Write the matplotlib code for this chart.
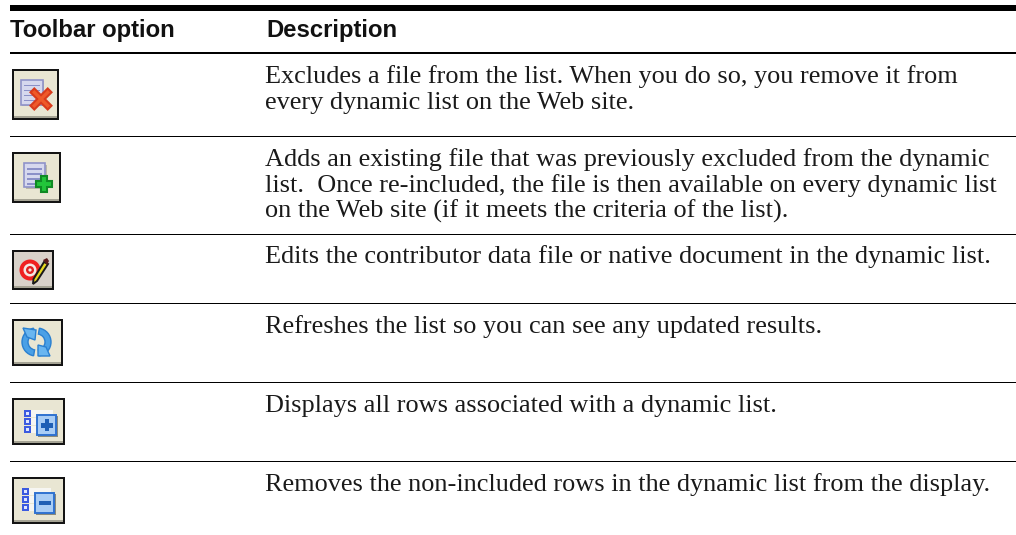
import matplotlib
matplotlib.use("Agg")
import matplotlib.pyplot as plt
from matplotlib.patches import Rectangle, Polygon, Circle, Wedge

headers = ["Toolbar option", "Description"]
descriptions = [
    ["Excludes a file from the list. When you do so, you remove it from",
     "every dynamic list on the Web site."],
    ["Adds an existing file that was previously excluded from the dynamic",
     "list.  Once re-included, the file is then available on every dynamic list",
     "on the Web site (if it meets the criteria of the list)."],
    ["Edits the contributor data file or native document in the dynamic list."],
    ["Refreshes the list so you can see any updated results."],
    ["Displays all rows associated with a dynamic list."],
    ["Removes the non-included rows in the dynamic list from the display."],
]
first_baselines = [83, 166, 263, 333, 412, 491]
line_gap = 26
rule_ys = [136, 234, 303, 382, 461]
icon_boxes = [(12, 69, 59, 120), (12, 152, 61, 203), (12, 250, 54, 290),
              (12, 319, 63, 366), (12, 398, 65, 445), (12, 477, 65, 524)]
icon_bg = ["#e9e6d3", "#e9e6d3", "#d9d2ca", "#e9e6d3", "#e9e6d3", "#e9e6d3"]

fig = plt.figure(figsize=(10.16, 5.35), dpi=100)
ax = fig.add_axes([0, 0, 1, 1])
ax.set_xlim(0, 1016)
ax.set_ylim(535, 0)
ax.axis("off")

X0, X1 = 10, 1016
ax.add_patch(Rectangle((X0, 5), X1 - X0, 6, fc="black", ec="none"))
ax.add_patch(Rectangle((X0, 51.5), X1 - X0, 2, fc="black", ec="none"))
for y in rule_ys:
    ax.add_patch(Rectangle((X0, y - 0.5), X1 - X0, 1, fc="black", ec="none"))

ax.text(10, 37, headers[0], family="Liberation Sans", weight="bold",
        fontsize=17.2, va="baseline", color="#111111")
ax.text(266, 37, headers[1], family="Liberation Sans", weight="bold",
        fontsize=17.2, va="baseline", color="#111111")

for lines, base in zip(descriptions, first_baselines):
    for i, line in enumerate(lines):
        ax.text(265, base + i * line_gap, line, family="Liberation Serif",
                fontsize=18.9, va="baseline", color="#1a1a1a")


def rect(x, y, w, h, fc, ec="none", lw=0, z=3):
    ax.add_patch(Rectangle((x, y), w, h, fc=fc, ec=ec, lw=lw, zorder=z))


def frame(box, bg):
    x0, y0, x1, y1 = box
    rect(x0, y0, x1 - x0, y1 - y0, "#141414", z=2)
    rect(x0 + 2, y0 + 2, x1 - x0 - 4, y1 - y0 - 4, bg, z=2)
    rect(x0 + 2, y1 - 4, x1 - x0 - 4, 2, "#a5a394", z=2)


def doc(x, y, w, h):
    rect(x + 1.5, y + 1.5, w, h, "#b9b7a8", z=3)
    rect(x, y, w, h, "#d6d8ee", ec="#8f93c9", lw=1.2, z=3)
    for k in range(4):
        rect(x + 3, y + 5 + k * 5, w - 6, 1.8, "#8b90c8", z=4)


def plus(cx, cy, a, t, fc, ec):
    pts = [(-t, -a), (t, -a), (t, -t), (a, -t), (a, t), (t, t), (t, a), (-t, a),
           (-t, t), (-a, t), (-a, -t), (-t, -t)]
    ax.add_patch(Polygon([(cx + p, cy + q) for p, q in pts], closed=True,
                         fc=fc, ec=ec, lw=1.5, zorder=5))


def cross(cx, cy, a, t, fc, ec):
    pts = [(-a, -a + t), (-a + t, -a), (0, -t), (a - t, -a), (a, -a + t), (t, 0),
           (a, a - t), (a - t, a), (0, t), (-a + t, a), (-a, a - t), (-t, 0)]
    ax.add_patch(Polygon([(cx + p, cy + q) for p, q in pts], closed=True,
                         fc=fc, ec=ec, lw=1.5, zorder=5))


def list_icon(box, sign, dx, dy):
    x0, y0, _, _ = box
    lx = x0 + 12 + dx
    for k in range(3):
        ry = y0 + 12 + dy + k * 8
        rect(lx + 5, ry - 0.5, 24, 7, "#f6f6f2", z=3)
        rect(lx, ry, 6.5, 6.5, "#3c5be0", z=4)
        rect(lx + 2, ry + 2, 2.5, 2.5, "#dfe6ff", z=5)
    bx, by = x0 + 25 + dx, y0 + 17 + dy
    rect(bx + 1, by + 1, 20, 21, "#8a8a7c", z=4)
    rect(bx, by, 19, 20, "#a9cdf5", ec="#2f72d0", lw=1.4, z=5)
    if sign == "+":
        rect(bx + 3.5, by + 8, 12, 4.5, "#1f5fb5", z=6)
        rect(bx + 7.5, by + 4, 4.5, 12, "#1f5fb5", z=6)
    else:
        rect(bx + 3.5, by + 8, 12, 4, "#1f5fb5", z=6)


# icon 1: exclude
frame(icon_boxes[0], icon_bg[0])
doc(20.5, 79.5, 22, 25)
cross(41, 99, 10.5, 3.8, "#ee5a2a", "#d83a1c")

# icon 2: include
frame(icon_boxes[1], icon_bg[1])
doc(24, 163, 21, 24)
plus(44, 184, 8, 3.2, "#22c53a", "#0f8a24")

# icon 3: edit target
frame(icon_boxes[2], icon_bg[2])
cx, cy = 30, 270
ax.add_patch(Circle((cx, cy), 10.5, fc="#f02020", ec="none", zorder=3))
ax.add_patch(Circle((cx, cy), 6.5, fc="#f4e8e4", ec="none", zorder=4))
ax.add_patch(Circle((cx, cy), 4, fc="#e02020", ec="none", zorder=4))
ax.add_patch(Circle((cx, cy), 1.6, fc="#f4e8e4", ec="none", zorder=4))
ax.add_patch(Polygon([(44, 262), (48, 264), (37, 281), (33, 284), (33.5, 279)],
                     closed=True, fc="#e8d820", ec="#1a1a1a", lw=1.4, zorder=5))
ax.add_patch(Polygon([(43, 260), (47, 258), (49, 261), (47, 265)],
                     closed=True, fc="#5a1a1a", ec="none", zorder=6))

# icon 4: refresh
frame(icon_boxes[3], icon_bg[3])
ax.add_patch(Wedge((36, 342), 14, 100, 260, width=6, fc="#4aa0e6", ec="#2a80d0", lw=1, zorder=4))
ax.add_patch(Wedge((37, 342), 14, 280, 80, width=6, fc="#4aa0e6", ec="#2a80d0", lw=1, zorder=4))
ax.add_patch(Polygon([(23, 328), (36, 330), (35, 340), (27, 337)], closed=True,
                     fc="#6ab6f0", ec="#2a80d0", lw=1, zorder=5))
ax.add_patch(Polygon([(38, 345), (46, 347), (50, 356), (38, 356)], closed=True,
                     fc="#6ab6f0", ec="#2a80d0", lw=1, zorder=5))

# icons 5 and 6: list with sign
frame(icon_boxes[4], icon_bg[4])
list_icon(icon_boxes[4], "+", 0, 0)
frame(icon_boxes[5], icon_bg[5])
list_icon(icon_boxes[5], "-", -2, -1)

fig.savefig("out.png", dpi=100, facecolor="white")
